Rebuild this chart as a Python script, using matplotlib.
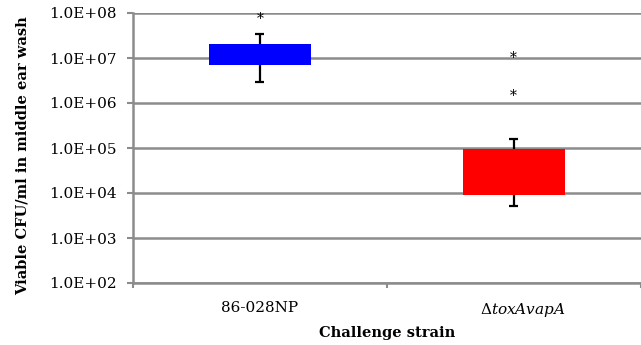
import matplotlib.pyplot as plt
import matplotlib.transforms as mtransforms
import numpy as np

# datos
cepas = ["86-028NP", r"$\Delta\mathit{toxAvapA}$"]
colores = ["#0000FF", "#FF0000"]
caja_baja = [7.1e6, 9.2e3]
caja_alta = [2.0e7, 9.7e4]
bigote_bajo = [3.0e6, 5.2e3]
bigote_alto = [3.4e7, 1.55e5]
atipicos = [[7.4e7], [1.0e7, 1.45e6]]
yticks = [1e2, 1e3, 1e4, 1e5, 1e6, 1e7, 1e8]
ytick_labels = ["1.0E+02", "1.0E+03", "1.0E+04", "1.0E+05", "1.0E+06", "1.0E+07", "1.0E+08"]

plt.rcParams["font.family"] = "DejaVu Serif"
plt.rcParams["mathtext.fontset"] = "dejavuserif"
gris = "#8c8c8c"

fig = plt.figure(figsize=(6.41, 3.45), dpi=100)
ax = fig.add_axes([133 / 641, 1 - 283 / 345, 1 - 133 / 641 - 0.0005, (283 - 13) / 345])

x = np.arange(len(cepas)) + 0.5
for i in range(len(cepas)):
    ax.vlines(x[i], bigote_bajo[i], bigote_alto[i], color="black", lw=1.6, zorder=2)
    ax.hlines([bigote_bajo[i], bigote_alto[i]], x[i] - 0.018, x[i] + 0.018, color="black", lw=1.6, zorder=2)
    ax.bar(x[i], caja_alta[i] - caja_baja[i], bottom=caja_baja[i], width=0.4,
           color=colores[i], zorder=3)
    for v in atipicos[i]:
        ax.text(x[i], v, "*", ha="center", va="center", fontsize=10, zorder=4)

ax.set_yscale("log")
ax.set_ylim(1e2, 1e8)
ax.set_xlim(0, 2)
ax.set_yticks(yticks)
ax.set_yticklabels(ytick_labels, fontsize=11)
ax.minorticks_off()
ax.yaxis.grid(True, color=gris, lw=1.8)
ax.set_axisbelow(True)

ax.set_xticks([0, 1, 2])
ax.set_xticklabels([])
ax.set_xticks(x, minor=True)
ax.set_xticklabels(cepas, minor=True, fontsize=11)
ax.tick_params(axis="x", which="minor", length=0, pad=13)
ax.tick_params(axis="x", which="major", length=3.5, color=gris, width=1.5)
ax.tick_params(axis="y", length=4.5, color=gris, width=1.5, pad=7)

# la etiqueta del mutante esta un poco corrida a la derecha en el original
etiq = ax.get_xticklabels(minor=True)[1]
etiq.set_transform(etiq.get_transform() + mtransforms.ScaledTranslation(0.09, 0, fig.dpi_scale_trans))

for s in ["top", "right"]:
    ax.spines[s].set_visible(False)
for s in ["left", "bottom"]:
    ax.spines[s].set_color(gris)
    ax.spines[s].set_linewidth(1.8)

ax.set_ylabel("Viable CFU/ml in middle ear wash", fontsize=10.5, fontweight="bold")
ax.yaxis.set_label_coords(-0.203, 0.472)
ax.set_xlabel("Challenge strain", fontsize=10.5, fontweight="bold", labelpad=5)

fig.savefig("out.png", dpi=100)
